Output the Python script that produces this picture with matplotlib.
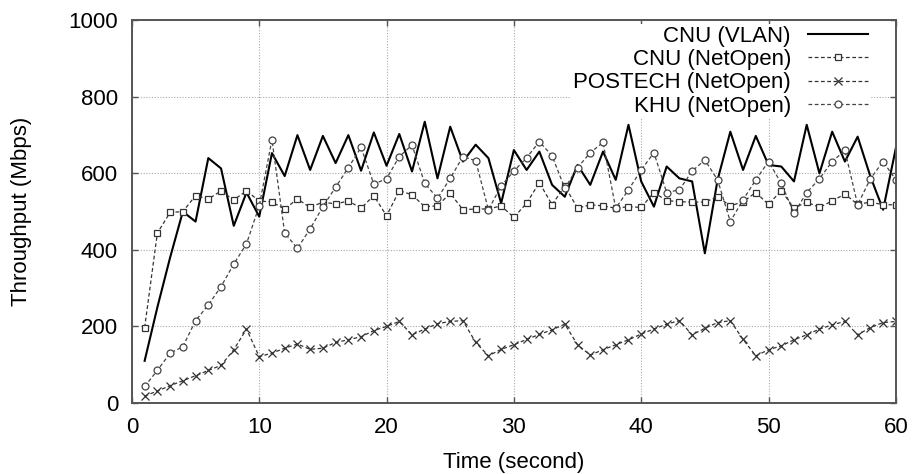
import numpy as np
import matplotlib.pyplot as plt

plt.rcParams['font.family'] = ['Liberation Sans', 'DejaVu Sans']

# Время (секунды)
t = np.arange(1, 61)

cnu_vlan = [110, 250, 380, 500, 474, 640, 613, 463, 550, 487,
            653, 593, 700, 609, 698, 627, 700, 607, 707, 620,
            703, 605, 735, 587, 722, 631, 675, 640, 522, 661,
            609, 657, 570, 539, 622, 570, 657, 583, 727, 579,
            513, 618, 587, 579, 391, 583, 709, 609, 698, 622,
            618, 579, 727, 600, 709, 631, 696, 592, 505, 666]

cnu_netopen = [197, 444, 498, 500, 542, 533, 554, 531, 554, 528,
               525, 507, 533, 511, 525, 520, 528, 509, 542, 489,
               555, 544, 513, 515, 548, 505, 507, 507, 515, 485,
               522, 576, 518, 567, 509, 518, 515, 509, 513, 511,
               550, 529, 526, 525, 525, 539, 515, 526, 550, 519,
               555, 509, 525, 511, 528, 546, 519, 525, 518, 518]

postech_netopen = [18, 31, 45, 58, 71, 85, 98, 139, 193, 121,
                   130, 143, 154, 140, 143, 158, 165, 173, 189, 200,
                   213, 178, 193, 207, 213, 215, 158, 123, 140, 152,
                   166, 179, 191, 206, 152, 125, 139, 152, 165, 180,
                   193, 206, 215, 178, 195, 210, 215, 166, 123, 139,
                   149, 165, 178, 193, 204, 213, 178, 197, 210, 213]

khu_netopen = [43, 85, 130, 147, 215, 256, 304, 363, 416, 515,
               688, 444, 404, 455, 513, 564, 615, 668, 572, 586,
               644, 674, 574, 535, 587, 644, 633, 505, 567, 606,
               641, 683, 646, 561, 615, 654, 681, 509, 557, 609,
               654, 550, 557, 606, 635, 583, 474, 531, 583, 631,
               574, 496, 550, 586, 631, 660, 518, 586, 631, 583]

fs = 16

fig = plt.figure(figsize=(9.16, 4.74), dpi=100)
ax = fig.add_axes([0.144, 0.150, 0.834, 0.807])

dash = (0, (3, 2))
ax.plot(t, cnu_vlan, color='black', linewidth=1.5, label='CNU (VLAN)')
ax.plot(t, cnu_netopen, color='#333333', linewidth=0.9, linestyle=dash,
        marker='s', markersize=5, markerfacecolor='white', markeredgewidth=0.9,
        label='CNU (NetOpen)')
ax.plot(t, postech_netopen, color='#333333', linewidth=0.9, linestyle=dash,
        marker='x', markersize=5.5, markeredgewidth=0.9,
        label='POSTECH (NetOpen)')
ax.plot(t, khu_netopen, color='#444444', linewidth=0.9, linestyle=dash,
        marker='o', markersize=5, markerfacecolor='white', markeredgewidth=0.9,
        label='KHU (NetOpen)')

ax.set_xlim(0, 60)
ax.set_ylim(0, 1000)
ax.set_xticks(np.arange(0, 61, 10))
ax.set_yticks(np.arange(0, 1001, 200))
ax.tick_params(direction='in', length=4, width=1, top=True, right=True,
               labelsize=fs, pad=10, colors='#555555', labelcolor='black')
ax.grid(True, linestyle=(0, (1, 1.5)), color='#aaaaaa', linewidth=0.8)
for s in ax.spines.values():
    s.set_color('#555555')
    s.set_linewidth(1.4)

ax.set_xlabel('Time (second)', fontsize=fs, labelpad=10)
ax.set_ylabel('Throughput (Mbps)', fontsize=fs, labelpad=26)

leg = ax.legend(loc='upper right', bbox_to_anchor=(0.966, 0.991),
                markerfirst=False, fontsize=fs,
                frameon=True, fancybox=False, handlelength=2.7,
                labelspacing=0.1, borderpad=0.1, borderaxespad=0.0,
                handletextpad=0.75)
leg.get_frame().set_edgecolor('none')
leg.get_frame().set_facecolor('white')
leg.get_frame().set_alpha(1.0)

fig.savefig('out.png', dpi=100)
